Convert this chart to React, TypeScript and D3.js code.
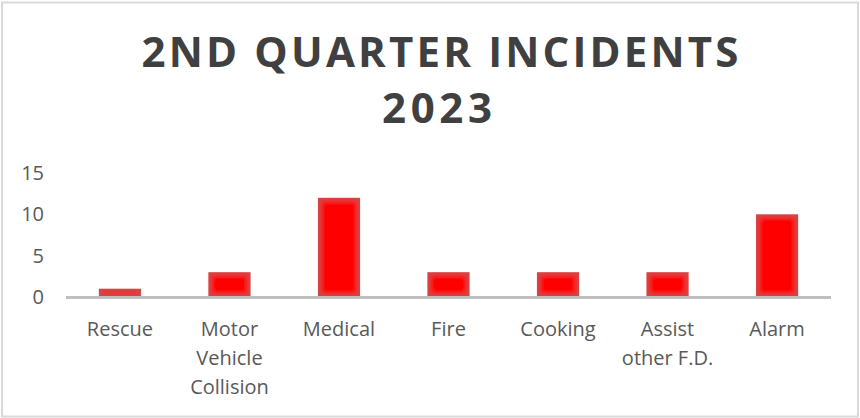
import * as d3 from 'd3';

const categories = ['Rescue', 'Motor Vehicle Collision', 'Medical', 'Fire', 'Cooking', 'Assist other F.D.', 'Alarm'];
const labelLines = [['Rescue'], ['Motor', 'Vehicle', 'Collision'], ['Medical'], ['Fire'], ['Cooking'], ['Assist', 'other F.D.'], ['Alarm']];
const incidents = [1, 3, 12, 3, 3, 3, 10];
const yTicks = [0, 5, 10, 15];
const titleLines = ['2ND QUARTER INCIDENTS', '2023'];

const W = 860;
const H = 418;
const margin = { left: 66, right: 29, top: 173, bottom: 121 };

export default function App() {
  const x = d3
    .scaleBand<string>()
    .domain(categories)
    .range([margin.left, W - margin.right])
    .paddingInner(0.615)
    .paddingOuter(0.3);
  const y = d3.scaleLinear().domain([0, 15]).range([H - margin.bottom, margin.top]);

  const font = "'Open Sans', 'DejaVu Sans', sans-serif";

  return (
    <div style={{ position: 'fixed', left: 0, top: 0 }}>
      <svg width={W} height={H} style={{ display: 'block', background: '#fff' }}>
        <defs>
          <filter id="glow" x="-10%" y="-10%" width="120%" height="120%">
            <feMorphology in="SourceAlpha" operator="erode" radius="3" result="e" />
            <feGaussianBlur in="e" stdDeviation="2.5" result="b" />
            <feFlood floodColor="#ff0000" />
            <feComposite in2="b" operator="in" result="red" />
            <feComposite in="red" in2="SourceAlpha" operator="in" result="redc" />
            <feMerge>
              <feMergeNode in="SourceGraphic" />
              <feMergeNode in="redc" />
            </feMerge>
          </filter>
        </defs>

        {/* chart border */}
        <rect x={2} y={2.5} width={W - 4} height={H - 4} fill="none" stroke="#d9d9d9" strokeWidth={2} />

        {/* title */}
        <text
          x={440}
          y={67}
          textAnchor="middle"
          fontFamily={font}
          fontWeight={700}
          fontSize={42}
          fill="#404040"
          textLength={597}
          lengthAdjust="spacing"
        >
          {titleLines[0]}
        </text>
        <text
          x={437}
          y={123}
          textAnchor="middle"
          fontFamily={font}
          fontWeight={700}
          fontSize={42}
          fill="#404040"
          textLength={110}
          lengthAdjust="spacing"
        >
          {titleLines[1]}
        </text>

        {/* y tick labels */}
        {yTicks.map((t) => (
          <text
            key={t}
            x={44}
            y={y(t) + 7}
            textAnchor="end"
            fontFamily={font}
            fontSize={20}
            fill="#595959"
          >
            {t}
          </text>
        ))}

        {/* bars */}
        {categories.map((c, i) => (
          <rect
            key={c}
            x={x(c)!}
            y={y(incidents[i])}
            width={x.bandwidth()}
            height={y(0) - y(incidents[i])}
            fill="#d04848"
            filter="url(#glow)"
          />
        ))}

        {/* baseline */}
        <line
          x1={margin.left}
          x2={W - margin.right}
          y1={y(0) + 0.5}
          y2={y(0) + 0.5}
          stroke="#bfbfbf"
          strokeWidth={3}
        />

        {/* category labels */}
        {categories.map((c, i) => (
          <text
            key={c}
            x={x(c)! + x.bandwidth() / 2}
            textAnchor="middle"
            fontFamily={font}
            fontSize={20}
            fill="#595959"
          >
            {labelLines[i].map((line, j) => (
              <tspan key={j} x={x(c)! + x.bandwidth() / 2} y={336 + j * 29}>
                {line}
              </tspan>
            ))}
          </text>
        ))}
      </svg>
    </div>
  );
}
